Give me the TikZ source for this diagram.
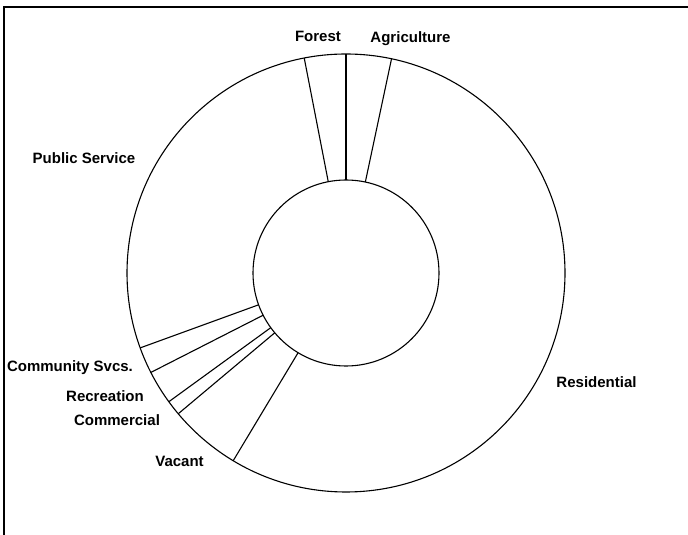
\documentclass[tikz,border=0pt]{standalone}
\usepackage{fontspec}
\setmainfont{Liberation Sans}
\begin{document}
\begin{tikzpicture}[x=1pt,y=1pt,
  ringline/.style={draw=black,line width=1.1pt},
  lbl/.style={font=\fontsize{15}{18}\selectfont\bfseries,inner sep=0pt,anchor=base},
  framel/.style={draw=black,line width=1.8pt}]
\useasboundingbox (0,0) rectangle (688,535);
\fill[white] (0,0) rectangle (688,535);
% frame (cropped)
\coordinate (ftl) at (4,527.7);
\coordinate (ftr) at (690,527.7);
\coordinate (fbl) at (4,-2);
\draw[framel] (fbl) -- (ftl) -- (ftr);
% donut
\coordinate (C) at (346,262);
\node[circle,ringline,minimum size=438pt,inner sep=0pt,outer sep=0pt] (ring) at (C) {};
\node[circle,ringline,minimum size=186pt,inner sep=0pt,outer sep=0pt] (hub) at (C) {};
\foreach \a in {101.1,90,78.3,200,207,216,220,239.7}{
  \draw[ringline] (hub.\a) -- (ring.\a);
}
% labels
\node[lbl] (forest) at (318,493) {Forest};
\node[lbl] (agri) at (410.5,492.5) {Agriculture};
\node[lbl] (pub) at (84,371) {Public Service};
\node[lbl] (comm) at (70,163) {Community Svcs.};
\node[lbl] (rec) at (105,133) {Recreation};
\node[lbl] (com) at (117,109.5) {Commercial};
\node[lbl] (vac) at (179.5,68) {Vacant};
\node[lbl] (res) at (596.5,147) {Residential};
\end{tikzpicture}
\end{document}
